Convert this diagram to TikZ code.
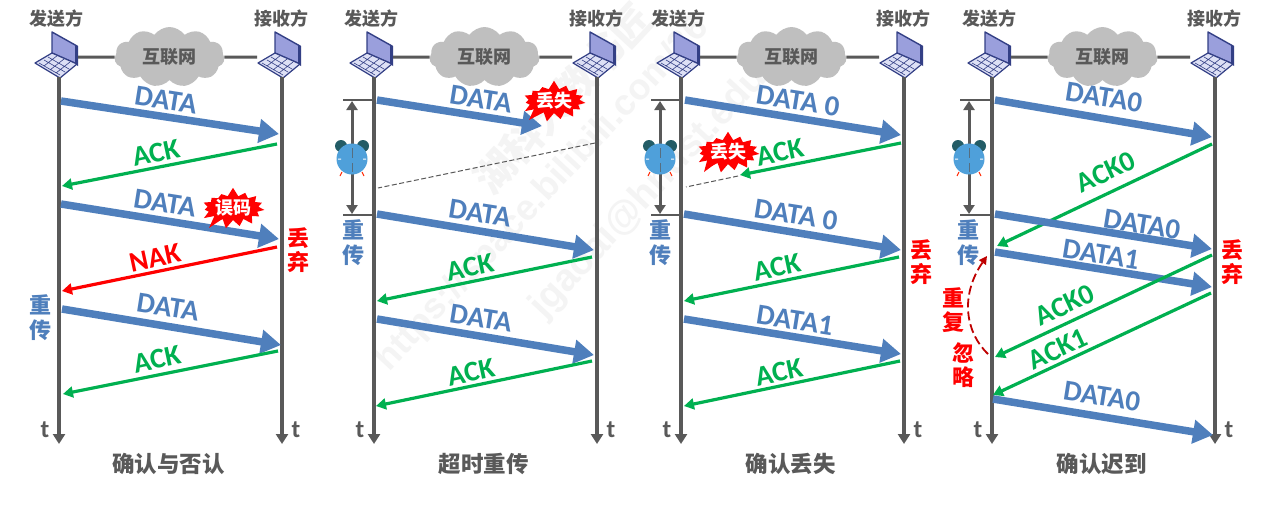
\documentclass[tikz,border=0pt]{standalone}
\usepackage{fontspec}
\setmainfont{Carlito}
\newfontfamily\cjk{Noto Sans CJK SC}
\newfontfamily\wmfont{Liberation Sans}
\usetikzlibrary{arrows.meta,shapes.symbols,shapes.geometric}
\definecolor{axisgray}{HTML}{595959}
\definecolor{databl}{HTML}{4F7FBC}
\definecolor{ackgr}{HTML}{00B050}
\definecolor{cloudgr}{HTML}{BFBFBF}
\definecolor{screenbl}{HTML}{9A9FDC}
\definecolor{framebl}{HTML}{333F85}
\definecolor{keybl}{HTML}{DDE0F5}
\definecolor{markgray}{HTML}{F4F4F4}
\definecolor{clockbl}{HTML}{4FA0DA}
\definecolor{eardark}{HTML}{235C66}
\tikzset{
  lifeline/.style={draw=axisgray,line width=3.2pt,-{Triangle[length=10pt,width=12pt]}},
  wire/.style={draw=axisgray,line width=3pt},
  datamsg/.style={draw=databl,line width=7.5pt,-{Triangle[length=20pt,width=23pt]},shorten >=0pt},
  ackmsg/.style={draw=ackgr,line width=3.2pt,-{Triangle[length=10pt,width=11pt]}},
  nakmsg/.style={draw=red,line width=3.2pt,-{Triangle[length=10pt,width=11pt]}},
  lostpath/.style={draw=axisgray,line width=1pt,dash pattern=on 5pt off 2.5pt},
  timerbar/.style={draw=axisgray,line width=2.8pt},
  timerspan/.style={draw=axisgray,line width=3pt,{Triangle[length=9pt,width=11pt]}-{Triangle[length=9pt,width=11pt]}},
  datalbl/.style={text=databl,font=\fontsize{29}{29}\selectfont\bfseries,inner sep=0pt},
  acklbl/.style={text=ackgr,font=\fontsize{28.5}{29}\selectfont\bfseries,inner sep=0pt},
  naklbl/.style={text=red,font=\fontsize{28.5}{29}\selectfont\bfseries,inner sep=0pt},
  peerlbl/.style={text=axisgray,font=\cjk\fontsize{18}{18}\selectfont\bfseries,inner sep=0pt},
  cloudbox/.style={cloud,cloud puffs=11,cloud puff arc=110,aspect=1.9,fill=cloudgr,minimum width=110pt,minimum height=60pt,inner sep=0pt,
    text=axisgray,font=\cjk\fontsize{18}{18}\selectfont\bfseries},
  timelbl/.style={text=axisgray,font=\fontsize{25}{25}\selectfont\bfseries,inner sep=0pt},
  caption/.style={text=axisgray,font=\cjk\fontsize{22.5}{23}\selectfont\bfseries,inner sep=0pt},
  vertred/.style={text=red,align=center,font=\cjk\fontsize{22}{24}\selectfont\bfseries,inner sep=0pt},
  vertblue/.style={text=databl,align=center,font=\cjk\fontsize{22}{25}\selectfont\bfseries,inner sep=0pt},
  burst/.style={starburst,starburst points=15,starburst point height=9pt,random starburst=7,fill=red,minimum width=52pt,minimum height=36pt,inner sep=0pt,
    text=white,font=\cjk\fontsize{18}{18}\selectfont\bfseries},
  watermark/.style={text=markgray,font=\wmfont\fontsize{36}{36}\selectfont\bfseries,rotate=47,inner sep=0pt},
}
% one notebook computer, its lower back corner placed on the lifeline
\newcommand{\laptop}[3]{%
  \coordinate (#1) at (#2,#3);
  \fill[screenbl,draw=framebl,line width=1.4pt,line join=round] (#2-7,#3-45) -- (#2+18,#3-31) -- (#2+18,#3-13) -- (#2-7,#3-24) -- cycle;
  \fill[framebl] (#2+16,#3-32) -- (#2+19,#3-31) -- (#2+19,#3-11) -- (#2+16,#3-13) -- cycle;
  \fill[keybl,draw=framebl,line width=1.2pt,line join=round] (#2-24,#3-14) -- (#2+1,#3+1) -- (#2+18,#3-13) -- (#2-7,#3-24) -- cycle;
  \draw[framebl,line width=.6pt] (#2-20,#3-14) -- (#2+1,#3-2) (#2-15,#3-17) -- (#2+6,#3-5) (#2-11,#3-20) -- (#2+10,#3-8)
     (#2-15,#3-11) -- (#2-1,#3-22) (#2-9,#3-7) -- (#2+5,#3-18) (#2-3,#3-4) -- (#2+11,#3-15);
}
% lifelines, peers, cloud and captions of one exchange
\newcommand{\exchange}[4]{%
  \laptop{#1-s}{#2}{77}
  \laptop{#1-r}{#3}{77}
  \node[cloudbox] (#1-net) at ({(#2+#3)/2-1},57) {互联网};
  \coordinate (#1-sw) at (#2+19,57);
  \coordinate (#1-rw) at (#3-25,57);
  \coordinate (#1-se) at (#2,444);
  \coordinate (#1-re) at (#3,444);
  \draw[wire] (#1-sw) -- (#1-net);
  \draw[wire] (#1-net) -- (#1-rw);
  \draw[lifeline] (#1-s) -- (#1-se);
  \draw[lifeline] (#1-r) -- (#1-re);
  \node[peerlbl] (#1-st) at (#2-3,19) {发送方};
  \node[peerlbl] (#1-rt) at (#3-1,19) {接收方};
  \node[timelbl] (#1-ts) at (#2-14,430) {t};
  \node[timelbl] (#1-tr) at (#3+14,430) {t};
  \node[caption] (#1-cap) at ({(#2+#3)/2-2},464) {#4};
}
% a message from one named end to the other
\newcommand{\msg}[6]{%
  \coordinate (#2-a) at (#3,#4);
  \coordinate (#2-b) at (#5,#6);
  \draw[#1] (#2-a) -- (#2-b);
}
% retransmission timer: two bars, the span between them and the alarm clock
\newcommand{\timer}[3]{%
  \coordinate (#1-u) at (#3,100);
  \coordinate (#1-l) at (#3,215);
  \draw[timerbar] (#2-9,100) -- (#1-u);
  \draw[timerbar] (#2-9,215) -- (#1-l);
  \coordinate (#1-au) at (#2,101);
  \coordinate (#1-al) at (#2,214);
  \draw[timerspan] (#1-au) -- (#1-al);
  \fill[eardark] (#2-11,146) circle (6pt) (#2+11,146) circle (6pt);
  \draw[red!70!orange,line width=1pt] (#2-10,172) -- (#2-12,176) (#2+10,172) -- (#2+12,176);
  \fill[clockbl] (#2,159) circle (15.5pt);
  \fill[white] (#2-14,158.5) rectangle (#2-11,159.5) (#2+11,158.5) rectangle (#2+14,159.5);
  \draw[axisgray!70!clockbl,line width=1pt] (#2,148) -- (#2,158) (#2,163) -- (#2,172);
}
\begin{document}
\begin{tikzpicture}[x=1pt,y=-1pt]
\useasboundingbox (0,0) rectangle (1273,512);
\fill[white] (0,0) rectangle (1273,512);

% faint diagonal marks behind the charts
\node[watermark,anchor=south west] (wm-a) at (395,378) {https://space.bilibili.com/36};
\node[watermark,anchor=south west,font=\wmfont\fontsize{38}{38}\selectfont\bfseries] (wm-b) at (550,325) {jgaoai@hnust.edu.cn};
\node[watermark,anchor=south west,font=\cjk\fontsize{40}{40}\selectfont\bfseries] (wm-c) at (495,200) {湖科大教书匠};

% ---- acknowledgement and negative acknowledgement ----
\exchange{p}{59}{282}{确认与否认}
\msg{datamsg}{p1}{61}{101}{279}{134}
\msg{ackmsg}{p2}{277}{144}{62}{186}
\msg{datamsg}{p3}{61}{204}{279}{239}
\msg{nakmsg}{p4}{277}{247}{62}{291}
\msg{datamsg}{p5}{62}{309}{281}{345}
\msg{ackmsg}{p6}{278}{351}{63}{394}
\node[datalbl,rotate=-9] (pl1) at (166,100) {DATA};
\node[acklbl,rotate=12] (pl2) at (156,153) {ACK};
\node[datalbl,rotate=-9] (pl3) at (165,203) {DATA};
\node[naklbl,rotate=12] (pl4) at (155,258) {NAK};
\node[datalbl,rotate=-9] (pl5) at (168,307) {DATA};
\node[acklbl,rotate=12] (pl6) at (157,359) {ACK};
\fill[red] (228,215) -- (209,228) -- (218,208) -- cycle;
\node[burst] (pb) at (233,208) {误码};
\node[vertred] (pd) at (298,250) {丢\\弃};
\node[vertblue] (pr) at (40,318) {重\\传};

% ---- timeout retransmission ----
\exchange{q}{374}{597}{超时重传}
\timer{qt}{352}{374}
\msg{datamsg}{q1}{377}{100}{542}{126}
\msg{lostpath}{q2}{595}{143}{378}{188}
\msg{datamsg}{q3}{377}{214}{594}{250}
\msg{ackmsg}{q4}{592}{257}{377}{301}
\msg{datamsg}{q5}{377}{319}{594}{355}
\msg{ackmsg}{q6}{592}{361}{376}{406}
\node[datalbl,rotate=-9] (ql1) at (481,99) {DATA};
\node[datalbl,rotate=-9] (ql3) at (480,213) {DATA};
\node[acklbl,rotate=12] (ql4) at (470,267) {ACK};
\node[datalbl,rotate=-9] (ql5) at (481,318) {DATA};
\node[acklbl,rotate=12] (ql6) at (471,372) {ACK};
\fill[red] (548,110) -- (529,120) -- (538,100) -- cycle;
\node[burst] (qb) at (554,101) {丢失};
\node[vertblue] (qr) at (353,243) {重\\传};

% ---- lost acknowledgement ----
\exchange{u}{681}{904}{确认丢失}
\timer{ut}{660}{681}
\msg{datamsg}{u1}{685}{100}{901}{135}
\msg{ackmsg}{u2}{901}{143}{740}{175}
\msg{lostpath}{u2d}{738}{176}{686}{187}
\msg{datamsg}{u3}{684}{214}{901}{250}
\msg{ackmsg}{u4}{899}{257}{684}{301}
\msg{datamsg}{u5}{684}{319}{901}{354}
\msg{ackmsg}{u6}{900}{361}{684}{406}
\node[datalbl,rotate=-9] (ul1) at (798,101) {DATA 0};
\node[acklbl,rotate=12] (ul2) at (780,152) {ACK};
\node[datalbl,rotate=-9] (ul3) at (796,215) {DATA 0};
\node[acklbl,rotate=12] (ul4) at (777,267) {ACK};
\node[datalbl,rotate=-9] (ul5) at (795,320) {DATA1};
\node[acklbl,rotate=12] (ul6) at (779,372) {ACK};
\fill[red] (723,158) -- (704,172) -- (710,150) -- cycle;
\node[burst] (ub) at (728,152) {丢失};
\node[vertred] (ud) at (921,262) {丢\\弃};
\node[vertblue] (ur) at (660,243) {重\\传};

% ---- late acknowledgement ----
\exchange{v}{992}{1215}{确认迟到}
\timer{vt}{969}{992}
\msg{datamsg}{v1}{995}{100}{1212}{137}
\msg{ackmsg}{v2}{1212}{144}{997}{246}
\msg{datamsg}{v3}{995}{214}{1212}{249}
\msg{datamsg}{v4}{995}{252}{1212}{287}
\msg{ackmsg}{v5}{1212}{255}{995}{357}
\msg{ackmsg}{v6}{1211}{293}{993}{395}
\msg{datamsg}{v7}{993}{399}{1213}{435}
\node[datalbl,rotate=-9] (vl1) at (1104,97) {DATA0};
\node[acklbl,rotate=25] (vl2) at (1106,172) {ACK0};
\node[datalbl,rotate=-9] (vl3) at (1142,224) {DATA0};
\node[datalbl,rotate=-9] (vl4) at (1101,254) {DATA1};
\node[acklbl,rotate=25] (vl5) at (1065,305) {ACK0};
\node[acklbl,rotate=25] (vl6) at (1058,349) {ACK1};
\node[datalbl,rotate=-9] (vl7) at (1102,396) {DATA0};
\node[vertred] (vd) at (1232,262) {丢\\弃};
\node[vertblue] (vr) at (968,243) {重\\传};
\node[vertred] (vdup) at (953,310) {重\\复};
\node[vertred] (vign) at (963,365) {忽\\略};
\coordinate (vc-a) at (988,354);
\coordinate (vc-b) at (987,256);
\draw[draw=red!75!black,line width=1.8pt,dash pattern=on 9pt off 4pt,-{Triangle[length=8pt,width=8pt]}]
  (vc-a) .. controls (965,332) and (960,295) .. (vc-b);
\end{tikzpicture}
\end{document}
